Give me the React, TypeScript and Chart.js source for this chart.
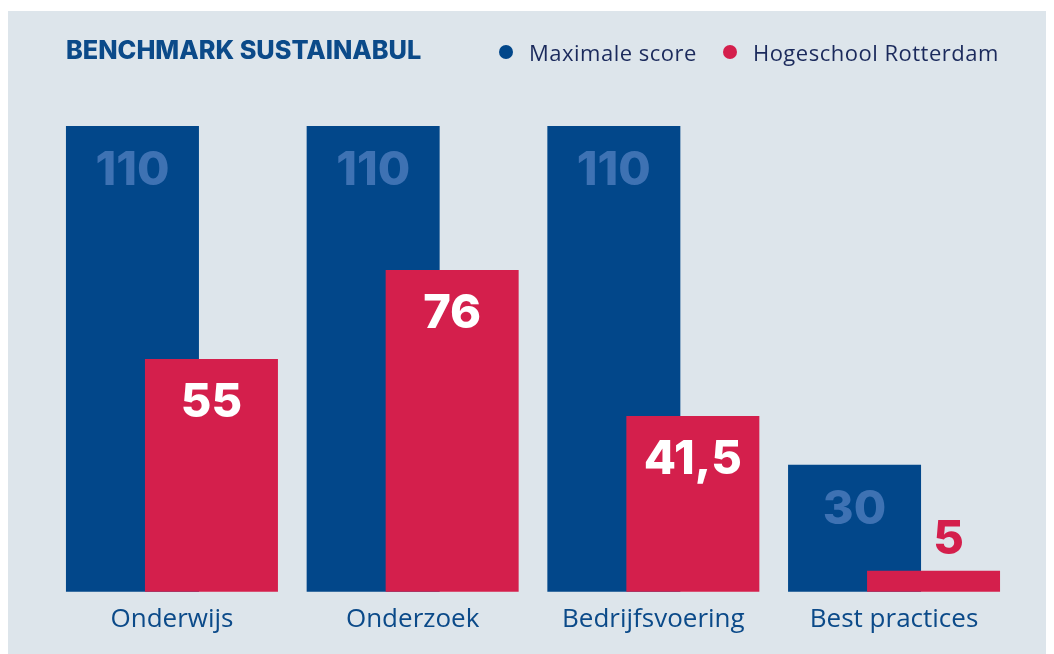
import React, { useEffect, useRef } from "react";
import { Chart, registerables } from "chart.js";

Chart.register(...registerables);

const categories = ["Onderwijs", "Onderzoek", "Bedrijfsvoering", "Best practices"];
const maxScore = [110, 110, 110, 30];
const hrScore = [55, 76, 41.5, 5];
const seriesNames = ["Maximale score", "Hogeschool Rotterdam"];
const chartTitle = "BENCHMARK SUSTAINABUL";

const BG = "#dde5eb";
const BLUE = "#02478a";
const RED = "#d41f4c";
const BLUE_LABEL = "#3e72b3";
const NAVY = "#0b4a89";
const LEGEND_TEXT = "#1b2a5c";

const fmt = (v: number) => String(v).replace(".", ",");

// Draw datasets in index order so the second (red) bar lies over the first (blue) one.
const drawOrder = {
  id: "drawOrder",
  beforeDatasetsDraw(chart: any) {
    const ctx = chart.ctx;
    chart.data.datasets.forEach((_: any, i: number) => {
      const meta = chart.getDatasetMeta(i);
      ctx.save();
      meta.controller.draw();
      ctx.restore();
    });
    return false;
  },
};

const valueLabels = {
  id: "valueLabels",
  afterDraw(chart: any) {
    const ctx = chart.ctx;
    ctx.save();
    ctx.textAlign = "center";
    ctx.textBaseline = "middle";
    ctx.font = "800 47px Inter";
    chart.data.datasets.forEach((ds: any, di: number) => {
      const meta = chart.getDatasetMeta(di);
      meta.data.forEach((bar: any, i: number) => {
        const v = ds.data[i] as number;
        let y: number;
        let x = bar.x;
        if (di === 0) {
          ctx.fillStyle = BLUE_LABEL;
          y = bar.y + 45;
        } else if (v >= 20) {
          ctx.fillStyle = "#ffffff";
          y = bar.y + 44;
        } else {
          ctx.fillStyle = RED;
          y = bar.y - 31;
          x = bar.x + 15;
        }
        ctx.fillText(fmt(v), x, y);
      });
    });
    ctx.restore();
  },
};

export default function App() {
  const ref = useRef<HTMLCanvasElement>(null);
  useEffect(() => {
    if (!ref.current) return;
    const chart = new Chart(ref.current, {
      type: "bar",
      data: {
        labels: categories,
        datasets: [
          { label: seriesNames[0], data: maxScore, backgroundColor: BLUE },
          { label: seriesNames[1], data: hrScore, backgroundColor: RED },
        ],
      },
      options: {
        responsive: false,
        animation: false,
        events: [],
        layout: { padding: { left: 43.6, right: 31.6, top: 115, bottom: 7 } },
        datasets: {
          bar: { categoryPercentage: 0.6564, barPercentage: 1.6835 },
        },
        plugins: {
          legend: { display: false },
          title: { display: false },
          tooltip: { enabled: false },
        },
        scales: {
          x: {
            grid: { display: false, drawTicks: false },
            border: { display: false },
            ticks: {
              color: NAVY,
              padding: 12,
              font: { family: "Open Sans", size: 26 },
            },
          },
          y: { display: false, min: 0, max: 110 },
        },
      },
      plugins: [drawOrder, valueLabels],
    });
    return () => chart.destroy();
  }, []);

  const dot = (c: string) => (
    <span
      style={{
        display: "inline-block",
        width: 14,
        height: 14,
        borderRadius: 7,
        background: c,
        marginRight: 16,
      }}
    />
  );

  return (
    <div
      style={{
        position: "absolute",
        left: 8,
        top: 11,
        width: 1038,
        height: 643,
        background: BG,
      }}
    >
      <canvas ref={ref} width={1038} height={643} style={{ display: "block" }} />
      <div
        style={{
          position: "absolute",
          left: 58,
          top: 24,
          fontFamily: "Inter",
          fontWeight: 800,
          fontSize: 25.3,
          color: NAVY,
          lineHeight: "30px",
        }}
      >
        {chartTitle}
      </div>
      <div
        style={{
          position: "absolute",
          left: 491,
          top: 26,
          display: "flex",
          alignItems: "center",
          fontFamily: "Open Sans",
          fontSize: 22,
          letterSpacing: 0.5,
          color: LEGEND_TEXT,
          lineHeight: "30px",
        }}
      >
        <span style={{ display: "flex", alignItems: "center", marginRight: 26 }}>
          {dot(BLUE)}
          {seriesNames[0]}
        </span>
        <span style={{ display: "flex", alignItems: "center" }}>
          {dot(RED)}
          {seriesNames[1]}
        </span>
      </div>
    </div>
  );
}
